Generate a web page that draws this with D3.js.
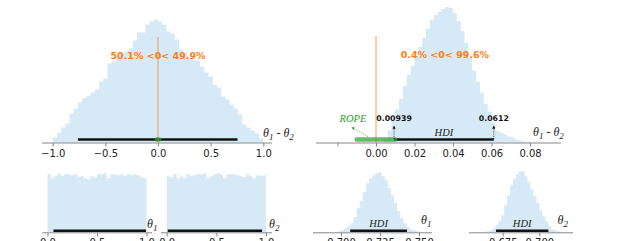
<!DOCTYPE html>
<html>
<head>
<meta charset="utf-8">
<script src="https://cdn.jsdelivr.net/npm/d3@7"></script>
<style>
  body { margin: 0; background: #fff; }
  svg { display: block; }
  .tick text { font-family: "DejaVu Sans", sans-serif; font-size: 10px; fill: #222; }
  .tick line { stroke: #888; }
</style>
</head>
<body>
<div id="chart"></div>
<script>
// ---- data ----
// difference theta1 - theta2 (prior), 50 bins of 0.04 from -1
var diffPriorStart = -1.0, diffPriorStep = 0.04;
var diffPriorCounts = [5,10,15,19,29,34,40,44.5,46.7,50,53,61,64,79,81,86,90,91,94,102,
                       110,110,118,121,123,121,118,111,109,103,93,90,85,83,82,76,70,66,58,55,
                       46,43,38,34,28,18,15,12,9,4];
// difference theta1 - theta2 (posterior), bins of 0.002 from 0.004
var diffPostStart = 0.004, diffPostStep = 0.002;
var diffPostCounts = [3,12,23,33,44,57,68,77,87,96,105,114,123,128,131,134,136,135,130,122,
                      112,100,85,72,61,50,39,31,20,12,10,8,6,5,3,2,1,1];
// priors theta1 / theta2, 30 bins on [0,1]
var priorStep = 1 / 30;
var theta1PriorCounts = [58,54,56,59,56,58,58,57,58,55,56,54,53,56,55,58,58,59,54,58,58,57,58,56,58,57,58,57,55,54];
var theta2PriorCounts = [56,55,58,54,56,54,58,56,57,58,58,59,54,56,58,59,58,54,58,58,58,57,56,55,58,56,54,57,56,57];
// posteriors theta1 / theta2, bins of 0.002
var theta1PostStart = 0.696, theta2PostStart = 0.662, postStep = 0.002;
var theta1PostCounts = [0.5,1,2,4,6,9,15,24,31,40,49,54,57,59,60,56,52,44,37,29,21,14,9,5,3,2,1,0.5];
var theta2PostCounts = [0.5,1,2,4,7,11,17,27,37,47,53,58,61,61,56,50,43,36,29,22,16,11,6,3,2,1,0.5];

// intervals
var diffPriorHdi = [-0.76, 0.755];
var diffPostHdi = [0.00939, 0.0612];
var theta1PriorHdi = [0.06, 0.995];
var theta2PriorHdi = [0.01, 0.96];
var theta1PostHdi = [0.7059, 0.7423];
var theta2PostHdi = [0.6704, 0.7062];
var rope = [-0.01, 0.01];
var refValue = 0;
var diffMeans = [0.0, 0.0358];
var probLabels = ["50.1% <0< 49.9%", "0.4% <0< 99.6%"];

// ticks
var diffPriorTicks = [-1.0, -0.5, 0.0, 0.5, 1.0];
var diffPostTicks = [-0.02, 0.0, 0.02, 0.04, 0.06, 0.08];
var priorTicks = [0.0, 0.5, 1.0];
var theta1PostTicks = [0.700, 0.725, 0.750];
var theta2PostTicks = [0.675, 0.700];

var orange = "#ff7f0e", green = "#2ca02c";

var svg = d3.select("#chart")
  .append("svg")
    .attr("width", 622)
    .attr("height", 241);

var defs = svg.append("defs");
function marker(id, color) {
  defs.append("marker")
    .attr("id", id)
    .attr("viewBox", "0 0 6 6")
    .attr("refX", 5).attr("refY", 3)
    .attr("markerWidth", 4).attr("markerHeight", 4)
    .attr("orient", "auto")
    .append("path")
      .attr("d", "M0,0L6,3L0,6Z")
      .attr("fill", color);
}
marker("arrK", "#111");
marker("arrG", green);

// one panel: histogram + spine + ticks
function panel(p) {
  var g = svg.append("g");
  var x = d3.scaleLinear().domain(p.xDomain).range(p.xRange);
  var y = d3.scaleLinear().domain([0, p.yMax]).range([p.base, p.top]);

  var pts = [];
  p.counts.forEach(function(c, i) {
    var x0 = p.start + i * p.step;
    pts.push([x0, c], [x0 + p.step, c]);
  });
  g.append("path")
    .datum(pts)
    .attr("fill", "#d5eaf6")
    .attr("d", d3.area()
      .x(function(d) { return x(d[0]); })
      .y0(p.base)
      .y1(function(d) { return y(d[1]); }));

  // spine
  g.append("line")
    .attr("x1", p.spine[0]).attr("x2", p.spine[1])
    .attr("y1", p.base + 0.5).attr("y2", p.base + 0.5)
    .attr("stroke", "#888").attr("stroke-width", 1);

  var ax = g.append("g")
    .attr("transform", "translate(0," + (p.base + 0.5) + ")")
    .call(d3.axisBottom(x).tickValues(p.ticks).tickSize(3.5).tickPadding(3).tickFormat(p.fmt));
  ax.select(".domain").remove();
  ax.attr("font-family", null).attr("font-size", null);

  // HDI bar
  g.append("line")
    .attr("x1", x(p.hdi[0])).attr("x2", x(p.hdi[1]))
    .attr("y1", p.base - p.barOff).attr("y2", p.base - p.barOff)
    .attr("stroke", "#111").attr("stroke-width", 2.6);

  // variable label
  var t = g.append("text")
    .attr("x", p.lab[0]).attr("y", p.lab[1])
    .style("font-family", "'Liberation Serif', serif")
    .style("font-style", "italic")
    .style("font-size", "12px")
    .attr("fill", "#222");
  p.label.forEach(function(part) {
    var ts = t.append("tspan").text(part[0]);
    if (part[1] == "sub") ts.attr("dy", 3).style("font-size", "9px");
    else if (part[1] == "up") ts.attr("dy", -3);
  });

  return {g: g, x: x, y: y};
}

var sub = function(s) { return [s, "sub"]; };

// top-left: prior difference
var p1 = panel({
  xDomain: [-1, 1], xRange: [52.7, 263.3], spine: [42, 272],
  base: 142.5, top: 19.5, yMax: 123,
  start: diffPriorStart, step: diffPriorStep, counts: diffPriorCounts,
  ticks: diffPriorTicks, fmt: d3.format(".1f"),
  hdi: diffPriorHdi, barOff: 3,
  lab: [263, 137], label: [["θ"], sub("1"), [" - ", "up"], ["θ"], sub("2")]
});

// top-right: posterior difference
var p2 = panel({
  xDomain: [0, 0.08], xRange: [376, 530], spine: [316, 561],
  base: 142.5, top: 7, yMax: 136,
  start: diffPostStart, step: diffPostStep, counts: diffPostCounts,
  ticks: diffPostTicks, fmt: function(d) { return d < 0 ? "" : d3.format(".2f")(d); },
  hdi: diffPostHdi, barOff: 3,
  lab: [533, 136], label: [["θ"], sub("1"), [" - ", "up"], ["θ"], sub("2")]
});

// bottom row
panel({
  xDomain: [0, 1], xRange: [47.5, 146.5], spine: [42, 152],
  base: 232.3, top: 172.3, yMax: 60,
  start: 0, step: priorStep, counts: theta1PriorCounts,
  ticks: priorTicks, fmt: d3.format(".1f"),
  hdi: theta1PriorHdi, barOff: 1.6,
  lab: [147, 228], label: [["θ"], sub("1")]
});
panel({
  xDomain: [0, 1], xRange: [166.7, 266], spine: [161, 272],
  base: 232.3, top: 172.3, yMax: 60,
  start: 0, step: priorStep, counts: theta2PriorCounts,
  ticks: priorTicks, fmt: d3.format(".1f"),
  hdi: theta2PriorHdi, barOff: 1.6,
  lab: [269, 228], label: [["θ"], sub("2")]
});
var p5 = panel({
  xDomain: [0.700, 0.750], xRange: [341, 419], spine: [313, 432],
  base: 232.3, top: 172.3, yMax: 60,
  start: theta1PostStart, step: postStep, counts: theta1PostCounts,
  ticks: theta1PostTicks, fmt: d3.format(".3f"),
  hdi: theta1PostHdi, barOff: 1.6,
  lab: [421, 224], label: [["θ"], sub("1")]
});
var p6 = panel({
  xDomain: [0.675, 0.700], xRange: [502.7, 539.3], spine: [469, 573],
  base: 232.3, top: 171.3, yMax: 61,
  start: theta2PostStart, step: postStep, counts: theta2PostCounts,
  ticks: theta2PostTicks, fmt: d3.format(".3f"),
  hdi: theta2PostHdi, barOff: 1.6,
  lab: [557.5, 224], label: [["θ"], sub("2")]
});

// HDI labels
function hdiLabel(p, hdi, yPos) {
  p.g.append("text")
    .attr("x", p.x((hdi[0] + hdi[1]) / 2)).attr("y", yPos)
    .attr("text-anchor", "middle")
    .style("font-family", "'Liberation Serif', serif")
    .style("font-style", "italic").style("font-size", "10.5px")
    .attr("fill", "#222")
    .text("HDI");
}
hdiLabel(p2, diffPostHdi, 136);
hdiLabel(p5, theta1PostHdi, 227);
hdiLabel(p6, theta2PostHdi, 227);

// reference line at 0 + probability text, ROPE bar
[[p1, 37, 59], [p2, 36, 58]].forEach(function(a, i) {
  var p = a[0];
  p.g.append("line")
    .attr("x1", p.x(refValue)).attr("x2", p.x(refValue))
    .attr("y1", a[1]).attr("y2", 142.5)
    .attr("stroke", orange).attr("stroke-opacity", 0.75).attr("stroke-width", 1);
  p.g.append("line")
    .attr("x1", p.x(rope[0])).attr("x2", p.x(rope[1]))
    .attr("y1", 139.5).attr("y2", 139.5)
    .attr("stroke", green).attr("stroke-opacity", 0.72)
    .attr("stroke-width", 4.5).attr("stroke-linecap", "round");
  p.g.append("text")
    .attr("x", p.x(diffMeans[i])).attr("y", a[2])
    .attr("text-anchor", "middle")
    .style("font-family", "'DejaVu Sans', sans-serif")
    .style("font-weight", "bold").style("font-size", "9.5px")
    .attr("fill", orange)
    .text(probLabels[i]);
});

// HDI bound annotations on posterior difference
diffPostHdi.forEach(function(v) {
  p2.g.append("line")
    .attr("x1", p2.x(v)).attr("x2", p2.x(v))
    .attr("y1", 139).attr("y2", 126)
    .attr("stroke", "#111").attr("stroke-width", 0.8)
    .attr("stroke-dasharray", "1,1.2")
    .attr("marker-end", "url(#arrK)");
  p2.g.append("text")
    .attr("x", p2.x(v)).attr("y", 121)
    .attr("text-anchor", "middle")
    .style("font-family", "'DejaVu Sans', sans-serif")
    .style("font-weight", "bold").style("font-size", "7.8px")
    .attr("fill", "#111")
    .text(String(v));
});

// ROPE label + arrow
var ropeMid = p2.x((rope[0] + rope[1]) / 2);
p2.g.append("line")
  .attr("x1", ropeMid - 8).attr("y1", 136.5)
  .attr("x2", ropeMid - 24).attr("y2", 127.5)
  .attr("stroke", green).attr("stroke-width", 0.8)
  .attr("stroke-dasharray", "1,1.2")
  .attr("marker-end", "url(#arrG)");
p2.g.append("text")
  .attr("x", ropeMid - 23).attr("y", 122)
  .attr("text-anchor", "middle")
  .style("font-family", "'Liberation Serif', serif")
  .style("font-style", "italic").style("font-size", "10.5px")
  .attr("fill", green)
  .text("ROPE");
</script>
</body>
</html>
